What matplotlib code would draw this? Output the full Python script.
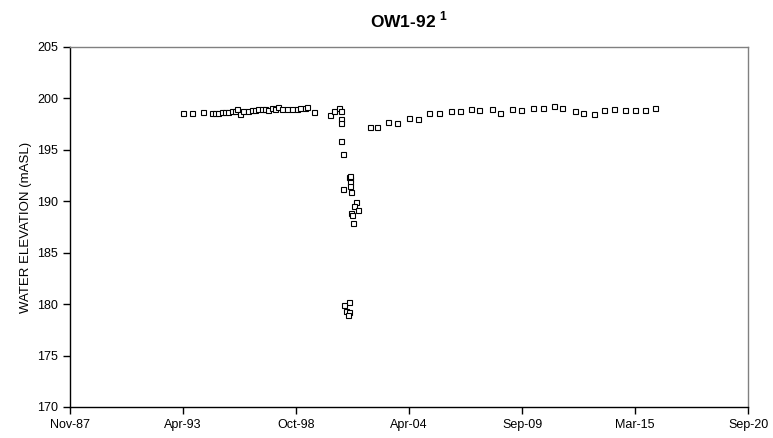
import matplotlib
matplotlib.use('Agg')
import matplotlib.pyplot as plt
import matplotlib.dates as mdates
import numpy as np
import pandas as pd

plt.rcParams['font.family'] = ['Liberation Sans', 'DejaVu Sans']
plt.rcParams['mathtext.fontset'] = 'custom'
plt.rcParams['mathtext.bf'] = 'Liberation Sans:bold'

# water level readings, OW1-92
dates = ['1993-04-15', '1993-10-01', '1994-04-20', '1994-09-10', '1994-11-05',
         '1995-01-01', '1995-03-10', '1995-05-05', '1995-06-25', '1995-09-05',
         '1995-10-28', '1995-12-01', '1996-01-20', '1996-03-15', '1996-06-10',
         '1996-08-20', '1996-10-15', '1996-12-05', '1997-02-15', '1997-04-10',
         '1997-06-01', '1997-08-10', '1997-10-05', '1997-11-25', '1998-02-05',
         '1998-05-05', '1998-08-01', '1998-10-25', '1998-12-20', '1999-03-15',
         '1999-04-20', '1999-08-25', '2000-06-01', '2000-08-10', '2000-11-10',
         '2000-12-10', '2000-12-12', '2000-12-14', '2000-12-15', '2001-01-20',
         '2001-05-05', '2001-05-20', '2001-05-22', '2001-05-24', '2001-05-26',
         '2001-01-25', '2001-06-20', '2001-09-15', '2001-08-05', '2001-10-15',
         '2001-06-20', '2001-06-22', '2001-07-20', '2001-05-08', '2001-02-10',
         '2001-03-25', '2001-05-08', '2001-04-15',
         '2002-05-10', '2002-09-10', '2003-03-25', '2003-09-01', '2004-04-01',
         '2004-09-05', '2005-03-20', '2005-09-10', '2006-04-10', '2006-09-20',
         '2007-04-01', '2007-08-20', '2008-04-05', '2008-08-25', '2009-03-25',
         '2009-09-01', '2010-04-01', '2010-10-10', '2011-04-10', '2011-09-10',
         '2012-04-15', '2012-09-01', '2013-03-20', '2013-09-10', '2014-03-20',
         '2014-09-15', '2015-03-10', '2015-09-05', '2016-03-01']
elevation = [198.6, 198.6, 198.7, 198.6, 198.6,
             198.6, 198.7, 198.7, 198.7, 198.8,
             198.8, 199.0, 198.5, 198.8, 198.8,
             198.9, 198.9, 199.0, 199.0, 199.0,
             198.9, 199.1, 199.0, 199.2, 199.0,
             199.0, 199.0, 199.0, 199.1, 199.1,
             199.2, 198.7, 198.4, 198.8, 199.1,
             198.8, 198.0, 197.6, 195.9, 194.6,
             192.4, 192.2, 191.9, 191.5, 192.5,
             191.2, 190.9, 189.9, 189.5, 189.2,
             188.9, 188.7, 187.9, 180.2, 179.9,
             179.3, 179.2, 178.9,
             197.2, 197.2, 197.7, 197.6, 198.1,
             198.0, 198.6, 198.6, 198.8, 198.8,
             199.0, 198.9, 199.0, 198.6, 199.0,
             198.9, 199.1, 199.1, 199.3, 199.1,
             198.8, 198.6, 198.5, 198.9, 199.0,
             198.9, 198.9, 198.9, 199.1]

x_start = pd.Timestamp('1987-11-01')
tick_step_days = 2000
n_ticks = 7

t = pd.to_datetime(dates)

fig = plt.figure(figsize=(7.73, 4.38), dpi=100)
ax = fig.add_axes([0.0906, 0.0708, 0.8771, 0.8219])

ax.plot(t, elevation, linestyle='none', marker='s', markersize=3.6,
        markerfacecolor='white', markeredgecolor='black', markeredgewidth=0.8)

ticks = [x_start + pd.Timedelta(days=tick_step_days * i) for i in range(n_ticks)]
ax.set_xlim(ticks[0], ticks[-1])
ax.set_xticks(ticks)
ax.xaxis.set_major_formatter(mdates.DateFormatter('%b-%y'))
ax.set_ylim(170, 205)
ax.set_yticks(np.arange(170, 206, 5))

ax.spines['left'].set_color('black')
ax.spines['bottom'].set_color('black')
ax.spines['top'].set_color('#808080')
ax.spines['right'].set_color('#808080')
for s in ax.spines.values():
    s.set_linewidth(1.0)
ax.tick_params(direction='out', length=5, width=1, labelsize=9, colors='black')

ax.set_ylabel('WATER ELEVATION (mASL)', fontsize=9.5)
ax.set_title(r'OW1-92 $^{\mathbf{1}}$', fontsize=12.5, fontweight='bold', pad=14)

fig.savefig('out.png', dpi=100)
